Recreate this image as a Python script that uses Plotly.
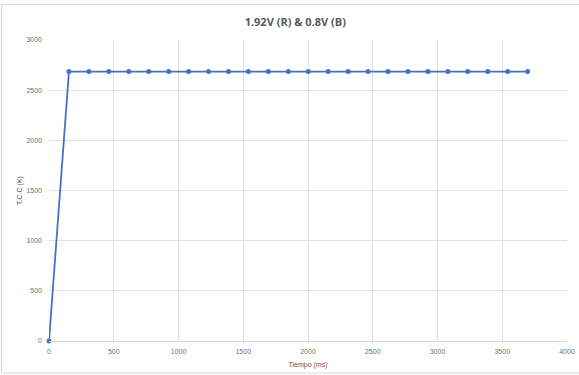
import plotly.graph_objects as go

tiempo_ms = [0] + [154 * k for k in range(1, 25)]
tcc_k = [0] + [2685] * 24

x_ticks = [0, 500, 1000, 1500, 2000, 2500, 3000, 3500, 4000]
y_ticks = [0, 500, 1000, 1500, 2000, 2500, 3000]

W, H = 579, 375
ml, mr, mt, mb = 49, 12, 40, 34

fig = go.Figure()
fig.add_trace(go.Scatter(
    x=tiempo_ms, y=tcc_k, mode="lines+markers",
    line=dict(color="#4472C4", width=1.8),
    marker=dict(color="#4472C4", size=5),
    showlegend=False, cliponaxis=False,
))

grid = "#e3e3e3"
tick_font = dict(family="Liberation Sans, Arial", size=7, color="#6f6f6f")
title_font = dict(family="Liberation Sans, Arial", size=7, color="#595959")
fig.update_layout(
    width=W, height=H,
    margin=dict(l=ml, r=mr, t=mt, b=mb),
    paper_bgcolor="white", plot_bgcolor="white",
    title=dict(text="<b>1.92V (R) & 0.8V (B)</b>", x=0.51, xanchor="center",
               y=1 - 22 / H, yanchor="middle",
               font=dict(family="Open Sans, Liberation Sans", size=11, color="#595959")),
    xaxis=dict(range=[0, 4000], tickvals=x_ticks, showgrid=True, gridcolor=grid,
               gridwidth=1, zeroline=False, showline=True, linecolor="#d9d9d9",
               ticks="", tickfont=tick_font, ticklabelstandoff=4, automargin=False,
               title=dict(text="Tiempo (ms)", font=title_font, standoff=7)),
    yaxis=dict(range=[0, 3000], tickvals=y_ticks, showgrid=True, gridcolor=grid,
               gridwidth=1, zeroline=False, showline=False, automargin=False,
               ticks="", tickfont=tick_font, ticklabelstandoff=6,
               title=dict(text="T.C.C (K)", font=title_font, standoff=2)),
    shapes=[dict(type="rect", xref="paper", yref="paper",
                 x0=-(ml - 1.5) / (W - ml - mr), x1=1 + (mr + 2) / (W - ml - mr),
                 y0=-(mb - 2) / (H - mt - mb), y1=1 + (mt - 4.5) / (H - mt - mb),
                 line=dict(color="#d9d9d9", width=1), layer="below")],
)

fig.write_html("out.html")
